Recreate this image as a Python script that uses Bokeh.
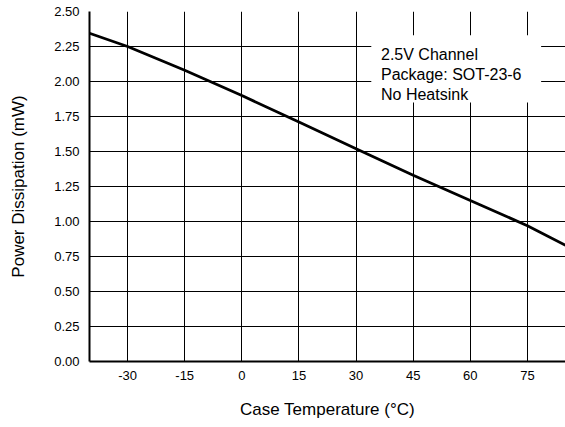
from bokeh.plotting import figure
from bokeh.models import Range1d, FixedTicker, NumeralTickFormatter, BoxAnnotation, Label
from bokeh.embed import file_html
from bokeh.resources import INLINE

# Data
temperature_c = [-40, -30, -15, 0, 15, 30, 45, 60, 75, 85]
power_mw = [2.345, 2.25, 2.08, 1.90, 1.71, 1.52, 1.33, 1.15, 0.97, 0.83]
x_ticks = [-30, -15, 0, 15, 30, 45, 60, 75]
y_ticks = [0.0, 0.25, 0.5, 0.75, 1.0, 1.25, 1.5, 1.75, 2.0, 2.25, 2.5]
note_lines = ["2.5V Channel", "Package: SOT-23-6", "No Heatsink"]

FONT = "Liberation Sans"

p = figure(width=565, height=427, output_backend="svg", toolbar_location=None,
           x_range=Range1d(-40, 85), y_range=Range1d(0, 2.5),
           min_border_left=89, min_border_right=0, min_border_top=11, min_border_bottom=66)
p.outline_line_color = None
p.background_fill_color = "white"
p.border_fill_color = "white"

p.xaxis.ticker = FixedTicker(ticks=x_ticks)
p.xaxis.major_label_overrides = {t: str(t) for t in x_ticks}
p.yaxis.ticker = FixedTicker(ticks=y_ticks)
p.yaxis.formatter = NumeralTickFormatter(format="0.00")

for ax in (p.xaxis, p.yaxis):
    ax.axis_line_color = "black"
    ax.axis_line_width = 2
    ax.major_tick_out = 0
    ax.major_tick_in = 0
    ax.minor_tick_out = 0
    ax.minor_tick_in = 0
    ax.major_label_text_font = FONT
    ax.major_label_text_font_size = "13px"
    ax.major_label_text_color = "black"
    ax.axis_label_text_font = FONT
    ax.axis_label_text_font_size = "17px"
    ax.axis_label_text_font_style = "normal"
    ax.axis_label_text_color = "black"

p.xaxis.axis_label = "Case Temperature (°C)"
p.yaxis.axis_label = "Power Dissipation (mW)"
p.xaxis.major_label_standoff = 9
p.xaxis.axis_label_standoff = 17
p.yaxis.major_label_standoff = 10
p.yaxis.axis_label_standoff = 23

for g in (p.xgrid, p.ygrid):
    g.grid_line_color = "black"
    g.grid_line_width = 1
    g.grid_line_alpha = 1.0
p.xgrid.ticker = FixedTicker(ticks=x_ticks)
p.ygrid.ticker = FixedTicker(ticks=y_ticks)

p.line(temperature_c, power_mw, line_color="black", line_width=2.8)

box = BoxAnnotation(left=34.0, right=78.6, bottom=1.85, top=2.33,
                    fill_color="white", fill_alpha=1.0, line_color=None)
p.add_layout(box)

for i, txt in enumerate(note_lines):
    lab = Label(x=36.55, y=2.193 - i * 0.143, text=txt,
                text_font=FONT, text_font_size="16px", text_color="black",
                text_baseline="alphabetic", text_align="left")
    p.add_layout(lab)

open("out.html", "w").write(file_html(p, INLINE))
